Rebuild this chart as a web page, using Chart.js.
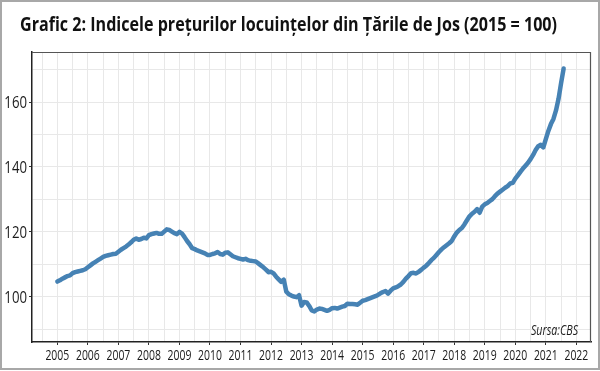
<!DOCTYPE html>
<html>
<head>
<meta charset="utf-8">
<script src="https://cdn.jsdelivr.net/npm/chart.js@4/dist/chart.umd.min.js"></script>
<style>
  html, body { margin: 0; padding: 0; background: #fff; }
  #wrap { width: 600px; height: 371px; }
</style>
</head>
<body>
<div id="wrap"><canvas id="hpi" width="600" height="371"></canvas></div>
<script>
// CBS house price index, monthly, Jan 2005 - Aug 2021 (2015 = 100)
const firstYear = 2005;
const housePriceIndex = [
  104.7, 105.1, 105.6, 106.0, 106.4, 106.6, 107.3, 107.6, 107.8, 108.0, 108.2, 108.5, // 2005
  109.1, 109.7, 110.3, 110.8, 111.3, 111.8, 112.3, 112.6, 112.8, 113.0, 113.2, 113.3, // 2006
  113.9, 114.5, 115.0, 115.5, 116.1, 116.8, 117.6, 118.0, 117.6, 117.8, 118.2, 118.0, // 2007
  119.0, 119.3, 119.5, 119.7, 119.4, 119.4, 120.1, 120.8, 120.6, 120.1, 119.6, 119.3, // 2008
  120.0, 119.5, 118.4, 117.2, 116.2, 115.0, 114.7, 114.3, 114.0, 113.7, 113.4, 112.9, // 2009
  112.9, 113.2, 113.4, 113.8, 113.2, 113.0, 113.6, 113.7, 113.1, 112.5, 112.2, 111.9, // 2010
  111.7, 111.5, 111.7, 111.3, 111.1, 111.0, 110.9, 110.3, 109.7, 109.1, 108.4, 107.6, // 2011
  107.7, 107.2, 106.2, 105.4, 104.6, 105.3, 101.6, 100.8, 100.4, 100.1,  99.9, 100.5, // 2012
   97.3,  98.4,  98.3,  97.2,  95.8,  95.5,  96.1,  96.4,  96.3,  96.0,  95.7,  96.0, // 2013
   96.5,  96.6,  96.4,  96.7,  97.0,  97.2,  97.9,  97.8,  97.8,  97.7,  97.6,  98.2, // 2014
   98.8,  99.0,  99.3,  99.6,  99.9, 100.2, 100.6, 101.1, 101.5, 101.8, 101.0, 101.9, // 2015
  102.6, 102.9, 103.3, 103.8, 104.6, 105.6, 106.4, 107.3, 107.4, 107.2, 107.7, 108.3, // 2016
  109.0, 109.6, 110.4, 111.3, 112.0, 112.9, 113.8, 114.6, 115.3, 115.9, 116.5, 117.2, // 2017
  118.6, 119.8, 120.6, 121.2, 122.3, 123.6, 124.8, 125.6, 126.2, 127.0, 125.9, 127.8, // 2018
  128.5, 128.9, 129.5, 130.1, 131.0, 131.8, 132.4, 133.0, 133.6, 134.1, 134.9, 135.1, // 2019
  136.4, 137.4, 138.5, 139.5, 140.4, 141.3, 142.4, 143.7, 145.2, 146.4, 146.8, 146.0, // 2020
  148.6, 151.1, 153.2, 154.8, 157.4, 161.0, 165.8, 170.3                              // 2021
];
const xTickYears = [2005, 2006, 2007, 2008, 2009, 2010, 2011, 2012, 2013,
                    2014, 2015, 2016, 2017, 2018, 2019, 2020, 2021, 2022];
const yTickLabels = [100, 120, 140, 160];

const titleText = 'Grafic 2: Indicele prețurilor locuințelor din Țările de Jos (2015 = 100)';
const sourceText = 'Sursa:CBS';
const face = "'Open Sans', 'Noto Sans', sans-serif";

const isWhole = v => Math.abs(v - Math.round(v)) < 1e-6;

// canvas has no condensed font here, so squeeze text horizontally
function squeezed(c, text, x, y, sx, align) {
  c.save();
  c.translate(x, y);
  c.scale(sx, 1);
  c.textAlign = align;
  c.fillText(text, 0, 0);
  c.restore();
}

const decorations = {
  id: 'decorations',
  afterDraw(chart) {
    const c = chart.ctx;
    const a = chart.chartArea;
    const xs = chart.scales.x;
    const ys = chart.scales.y;
    c.save();

    // top and right side of the panel
    c.strokeStyle = '#555';
    c.lineWidth = 1.2;
    c.beginPath();
    c.moveTo(a.left, a.top + 0.5);
    c.lineTo(a.right - 0.5, a.top + 0.5);
    c.lineTo(a.right - 0.5, a.bottom);
    c.stroke();

    // outer image border
    c.strokeStyle = '#a8a8a8';
    c.lineWidth = 2;
    c.strokeRect(1, 1, chart.width - 2, chart.height - 3);

    // title
    c.fillStyle = '#111';
    c.textBaseline = 'alphabetic';
    c.font = "bold 20px " + face;
    const tw = c.measureText(titleText).width;
    squeezed(c, titleText, 20, 31, 537 / tw, 'left');

    // axis labels
    c.fillStyle = '#1a1a1a';
    c.font = "14.5px " + face;
    xTickYears.forEach(yr => {
      squeezed(c, String(yr), xs.getPixelForValue(yr), 360, 0.72, 'center');
    });
    c.font = "16.5px " + face;
    c.textBaseline = 'middle';
    yTickLabels.forEach(v => {
      squeezed(c, String(v), 27, ys.getPixelForValue(v) + 1, 0.8, 'right');
    });

    // source note
    c.textBaseline = 'alphabetic';
    c.font = "italic 14px " + face;
    const sw = c.measureText(sourceText).width;
    squeezed(c, sourceText, a.right - 13, a.bottom - 7, 47 / sw, 'right');
    c.restore();
  }
};

new Chart(document.getElementById('hpi').getContext('2d'), {
  type: 'line',
  data: {
    datasets: [{
      data: housePriceIndex.map((v, i) => ({ x: firstYear + i / 12, y: v })),
      borderColor: '#4682b4',
      borderWidth: 4.5,
      pointRadius: 0,
      tension: 0,
      borderCapStyle: 'round',
      borderJoinStyle: 'round'
    }]
  },
  options: {
    responsive: false,
    animation: false,
    devicePixelRatio: 1,
    layout: { padding: { top: 52, right: 9, left: 0, bottom: 0 } },
    plugins: { legend: { display: false }, tooltip: { enabled: false }, title: { display: false } },
    scales: {
      x: {
        type: 'linear',
        min: 2004.17,
        max: 2022.48,
        afterFit: s => { s.height = 29; },
        border: { color: '#222', width: 1.5 },
        grid: {
          color: '#e8e8e8',
          lineWidth: 1,
          tickLength: 3,
          tickColor: ctx => (ctx.tick && isWhole(ctx.tick.value)) ? '#333' : 'rgba(0,0,0,0)'
        },
        ticks: { display: false, stepSize: 0.5, includeBounds: false, autoSkip: false, maxRotation: 0 }
      },
      y: {
        min: 86.1,
        max: 175.4,
        afterFit: s => { s.width = 32; },
        border: { color: '#222', width: 1.5 },
        grid: {
          color: '#e8e8e8',
          lineWidth: 1,
          tickLength: 3,
          tickColor: ctx => (ctx.tick && isWhole(ctx.tick.value) && yTickLabels.includes(Math.round(ctx.tick.value))) ? '#333' : 'rgba(0,0,0,0)'
        },
        ticks: { display: false, stepSize: 10, includeBounds: false }
      }
    }
  },
  plugins: [decorations]
});
</script>
</body>
</html>
